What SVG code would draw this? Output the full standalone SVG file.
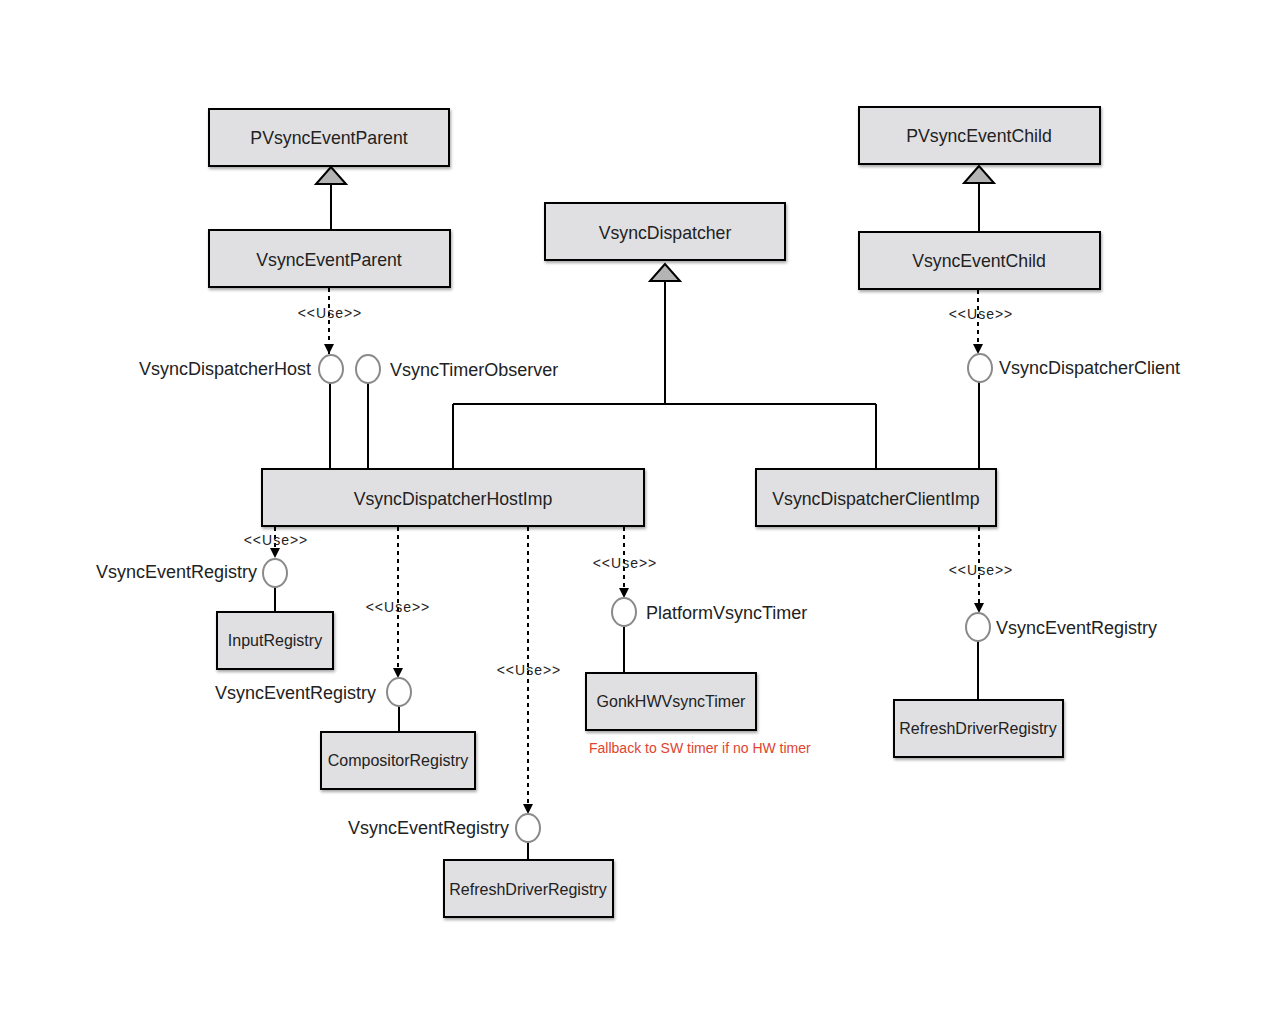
<svg xmlns="http://www.w3.org/2000/svg" width="1280" height="1024" viewBox="0 0 1280 1024">
<defs>
<filter id="sh" x="-10%" y="-10%" width="130%" height="140%">
<feDropShadow dx="1" dy="2" stdDeviation="1.5" flood-color="#000" flood-opacity="0.35"/>
</filter>
<marker id="arr" viewBox="0 0 10 10" refX="10" refY="5" markerWidth="10" markerHeight="10" markerUnits="userSpaceOnUse" orient="auto">
<path d="M0,0 L10,5 L0,10 z" fill="#000"/>
</marker>
</defs>
<style>
.box{fill:#e0e0e2;stroke:#000;stroke-width:2;filter:url(#sh)}
.bt{font-family:"Liberation Sans",Arial,sans-serif;font-size:17.7px;fill:#222;text-anchor:middle}
.st{font-family:"Liberation Sans",Arial,sans-serif;font-size:16px;fill:#222;text-anchor:middle}
.lbl{font-family:"Liberation Sans",Arial,sans-serif;font-size:18px;fill:#222}
.use{font-family:"Liberation Sans",Arial,sans-serif;font-size:14px;letter-spacing:1px;fill:#222;text-anchor:middle}
.ln{stroke:#000;stroke-width:2;fill:none}
.dl{stroke:#000;stroke-width:2;fill:none;stroke-dasharray:4,4;marker-end:url(#arr)}
.ifc{fill:#fff;stroke:#8a8a8a;stroke-width:2}
.tri{fill:#b4b4b4;stroke:#000;stroke-width:2}
.red{font-family:"Liberation Sans",Arial,sans-serif;font-size:14px;fill:#e0442e}
</style>
<rect width="1280" height="1024" fill="#fff"/>
<g id="connectors">
<path class="ln" d="M331,184 V230"/>
<polygon class="tri" points="331,167 316,184 346,184"/>
<path class="ln" d="M665,281 V404 M453,404 H876 M453,404 V469 M876,404 V469"/>
<polygon class="tri" points="665,264 650,281 680,281"/>
<path class="ln" d="M979,183 V232"/>
<polygon class="tri" points="979,166 964,183 994,183"/>
<path class="dl" d="M329,288 V354"/>
<path class="ln" d="M330,383 V469 M368,383 V469"/>
<path class="dl" d="M978,290 V354"/>
<path class="ln" d="M979,382 V469"/>
<path class="dl" d="M275,527 V558"/>
<path class="ln" d="M275,587 V612"/>
<path class="dl" d="M398,527 V678"/>
<path class="ln" d="M399,706 V732"/>
<path class="dl" d="M528,527 V814"/>
<path class="ln" d="M528,842 V860"/>
<path class="dl" d="M624,527 V598"/>
<path class="ln" d="M624,626 V673"/>
<path class="dl" d="M979,527 V613"/>
<path class="ln" d="M978,641 V700"/>
<text class="use" x="330" y="318">&lt;&lt;Use&gt;&gt;</text>
<text class="use" x="981" y="319">&lt;&lt;Use&gt;&gt;</text>
<text class="use" x="276" y="545">&lt;&lt;Use&gt;&gt;</text>
<text class="use" x="398" y="612">&lt;&lt;Use&gt;&gt;</text>
<text class="use" x="529" y="675">&lt;&lt;Use&gt;&gt;</text>
<text class="use" x="625" y="568">&lt;&lt;Use&gt;&gt;</text>
<text class="use" x="981" y="575">&lt;&lt;Use&gt;&gt;</text>
</g>
<g id="PVsyncEventParent"><rect class="box" x="209" y="109" width="240" height="57"/><text class="bt" x="329" y="144">PVsyncEventParent</text></g>
<g id="VsyncEventParent"><rect class="box" x="209" y="230" width="241" height="57"/><text class="bt" x="329" y="266">VsyncEventParent</text></g>
<g id="VsyncDispatcher"><rect class="box" x="545" y="203" width="240" height="57"/><text class="bt" x="665" y="239">VsyncDispatcher</text></g>
<g id="PVsyncEventChild"><rect class="box" x="859" y="107" width="241" height="57"/><text class="bt" x="979" y="142">PVsyncEventChild</text></g>
<g id="VsyncEventChild"><rect class="box" x="859" y="232" width="241" height="57"/><text class="bt" x="979" y="267">VsyncEventChild</text></g>
<g id="VsyncDispatcherHostImp"><rect class="box" x="262" y="469" width="382" height="57"/><text class="bt" x="453" y="505">VsyncDispatcherHostImp</text></g>
<g id="VsyncDispatcherClientImp"><rect class="box" x="756" y="469" width="240" height="57"/><text class="bt" x="876" y="505">VsyncDispatcherClientImp</text></g>
<g id="InputRegistry"><rect class="box" x="217" y="612" width="116" height="57"/><text class="st" x="275" y="646">InputRegistry</text></g>
<g id="CompositorRegistry"><rect class="box" x="321" y="732" width="154" height="57"/><text class="st" x="398" y="766">CompositorRegistry</text></g>
<g id="GonkHWVsyncTimer"><rect class="box" x="586" y="673" width="170" height="57"/><text class="st" x="671" y="707">GonkHWVsyncTimer</text></g>
<g id="RefreshDriverRegistryRight"><rect class="box" x="894" y="700" width="169" height="57"/><text class="st" x="978" y="734">RefreshDriverRegistry</text></g>
<g id="RefreshDriverRegistryBottom"><rect class="box" x="444" y="860" width="169" height="57"/><text class="st" x="528" y="895">RefreshDriverRegistry</text></g>
<g id="iVsyncDispatcherHost"><ellipse class="ifc" cx="331" cy="369" rx="12" ry="14"/><text class="lbl" x="311" y="375" text-anchor="end">VsyncDispatcherHost</text></g>
<g id="iVsyncTimerObserver"><ellipse class="ifc" cx="368" cy="369" rx="12" ry="14"/><text class="lbl" x="390" y="376">VsyncTimerObserver</text></g>
<g id="iVsyncDispatcherClient"><ellipse class="ifc" cx="980" cy="368" rx="12" ry="14"/><text class="lbl" x="999" y="374">VsyncDispatcherClient</text></g>
<g id="iVsyncEventRegistry1"><ellipse class="ifc" cx="275" cy="573" rx="12" ry="14"/><text class="lbl" x="257" y="578" text-anchor="end">VsyncEventRegistry</text></g>
<g id="iVsyncEventRegistry2"><ellipse class="ifc" cx="399" cy="692" rx="12" ry="14"/><text class="lbl" x="376" y="699" text-anchor="end">VsyncEventRegistry</text></g>
<g id="iVsyncEventRegistry3"><ellipse class="ifc" cx="528" cy="828" rx="12" ry="14"/><text class="lbl" x="509" y="834" text-anchor="end">VsyncEventRegistry</text></g>
<g id="iPlatformVsyncTimer"><ellipse class="ifc" cx="624" cy="612" rx="12" ry="14"/><text class="lbl" x="646" y="619">PlatformVsyncTimer</text></g>
<g id="iVsyncEventRegistry4"><ellipse class="ifc" cx="978" cy="627" rx="12" ry="14"/><text class="lbl" x="996" y="634">VsyncEventRegistry</text></g>
<text class="red" x="589" y="753">Fallback to SW timer if no HW timer</text>
</svg>
